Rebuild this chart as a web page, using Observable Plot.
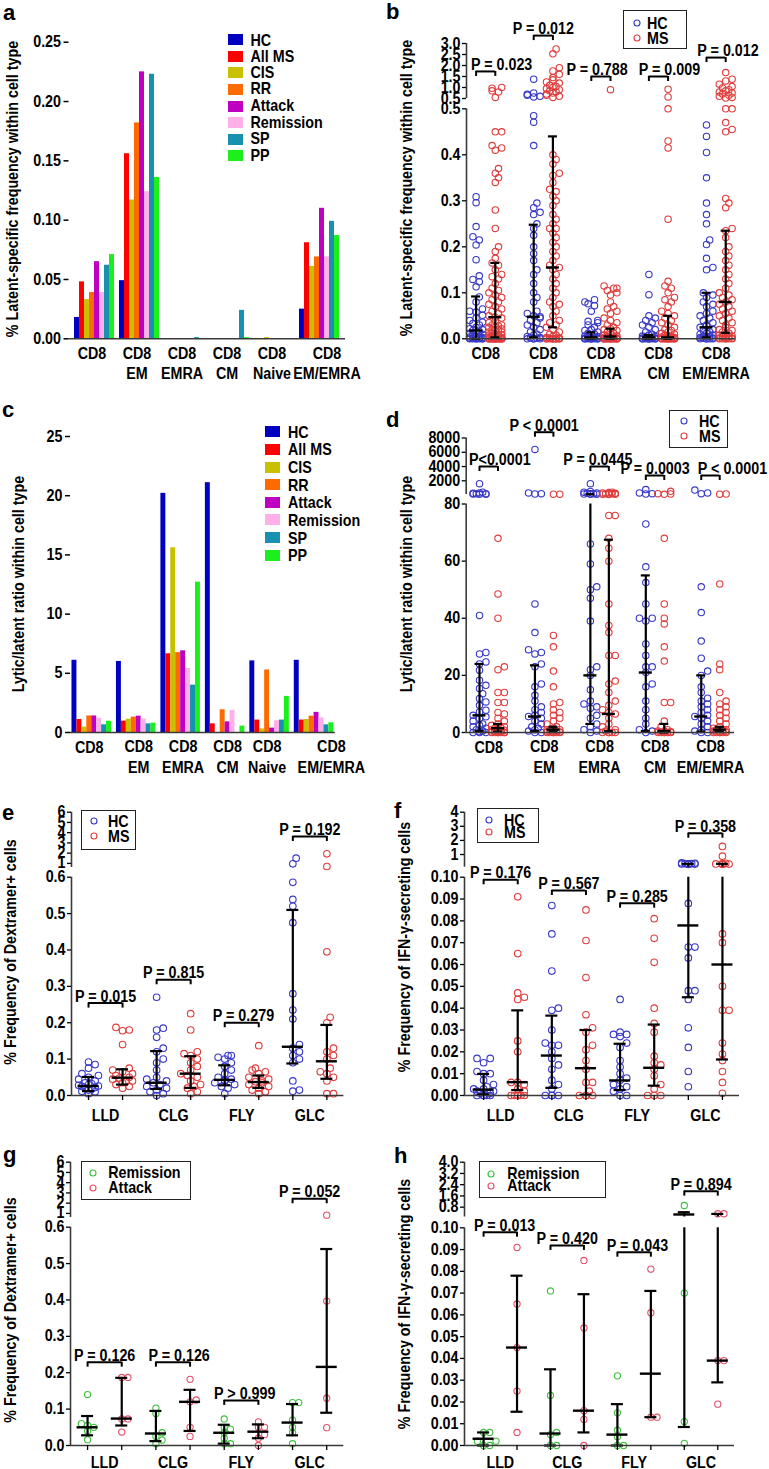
<!DOCTYPE html>
<html><head><meta charset="utf-8">
<script src="https://cdn.jsdelivr.net/npm/d3@7"></script>
<script src="https://cdn.jsdelivr.net/npm/@observablehq/plot@0.6"></script>
<style>
html,body{margin:0;padding:0;background:#fff;}
#root{position:relative;width:769px;height:1469px;overflow:hidden;background:#fff;font-family:"Liberation Sans",Arial,Helvetica,sans-serif;font-weight:bold;color:#000;}
.t{position:absolute;white-space:nowrap;font-size:14.3px;line-height:16px;transform:scaleY(1.1);}
.ytitle{position:absolute;white-space:nowrap;font-size:14.3px;transform:translate(-50%,-50%) rotate(-90deg) scale(1,1.1);}
.letter{position:absolute;font-size:22px;line-height:22px;}
.sw{position:absolute;}
.lbox{position:absolute;border:1.5px solid #222;box-sizing:border-box;}
</style></head><body><div id="root"></div>
<script>
// ================= DATA =================
const series = ["HC","All MS","CIS","RR","Attack","Remission","SP","PP"];
const seriesColors = ["#0000c0","#ff0000","#c8c000","#ff6a00","#c000c0","#ffb0e8","#1890b0","#1cf01c"];
const barCats = ["CD8","CD8\nEM","CD8\nEMRA","CD8\nCM","CD8\nNaive","CD8\nEM/EMRA"];

// panel a: % latent-specific frequency (per series, across barCats)
const aHC        = [0.018,0.049,0,0,0,0.025];
const aAllMS     = [0.048,0.156,0,0,0,0.081];
const aCIS       = [0.033,0.117,0,0,0.001,0.061];
const aRR        = [0.039,0.182,0,0,0,0.069];
const aAttack    = [0.065,0.225,0,0,0,0.110];
const aRemission = [0.039,0.124,0,0,0,0.069];
const aSP        = [0.062,0.223,0.001,0.024,0,0.099];
const aPP        = [0.071,0.136,0,0.001,0,0.087];
const aTicks = [0,0.05,0.10,0.15,0.20,0.25];

// panel c: lytic/latent ratio
const cHC        = [6.1,6.0,20.2,21.1,6.05,6.1];
const cAllMS     = [1.1,0.96,6.65,0.73,1.05,1.05];
const cCIS       = [0.45,1.13,15.6,0,0.3,1.1];
const cRR        = [1.4,1.3,6.75,1.92,5.28,1.38];
const cAttack    = [1.4,1.38,6.9,0.9,0.37,1.7];
const cRemission = [1.2,1.13,5.4,1.86,0.99,1.24];
const cSP        = [0.65,0.73,4.0,0,1.05,0.65];
const cPP        = [0.95,0.79,12.7,0.54,3.05,0.82];
const cTicks = [0,5,10,15,20,25];

const scatterCats = ["CD8","CD8\nEM","CD8\nEMRA","CD8\nCM","CD8\nEM/EMRA"];
const peptides = ["LLD","CLG","FLY","GLC"];

// panel b: latent-specific frequency, HC vs MS
const bHC = [
 [0.309,0.296,0.244,0.222,0.215,0.204,0.172,0.137,0.129,0.124,0.113,0.091,0.080,0.065,0.060,0.058,0.051,0.045,0.040,0.036,0.033,0.030,0.025,0.022,0.020,0.018,0.016,0.014,0.012,0.010,0.008,0.006,0.005,0.004,0.003,0.002,0.002,0.001,0.001,0,0,0,0,0,0,0],
 [1.38,0.75,0.69,0.65,0.60,0.57,0.485,0.471,0.42,0.295,0.285,0.275,0.27,0.25,0.24,0.225,0.20,0.185,0.17,0.15,0.14,0.12,0.10,0.09,0.08,0.06,0.055,0.05,0.048,0.045,0.04,0.035,0.03,0.025,0.02,0.015,0.01,0.008,0.005,0.003,0.002,0.001,0,0,0,0],
 [0.085,0.080,0.076,0.072,0.060,0.040,0.038,0.035,0.030,0.025,0.020,0.018,0.015,0.012,0.010,0.008,0.006,0.005,0.004,0.003,0.003,0.002,0.002,0.001,0.001,0,0,0,0,0,0,0,0,0],
 [0.14,0.096,0.05,0.045,0.04,0.035,0.03,0.025,0.02,0.015,0.01,0.008,0.006,0.005,0.004,0.003,0.003,0.002,0.002,0.001,0.001,0,0,0,0,0,0,0,0,0],
 [0.465,0.44,0.405,0.35,0.295,0.27,0.25,0.215,0.205,0.175,0.155,0.15,0.10,0.095,0.09,0.08,0.075,0.07,0.06,0.055,0.05,0.045,0.04,0.035,0.03,0.028,0.025,0.02,0.018,0.015,0.012,0.01,0.008,0.006,0.005,0.004,0.003,0.002,0.001,0,0,0,0,0]
];
const bMS = [
 [1.0,0.97,0.85,0.8,0.55,0.45,0.45,0.42,0.415,0.41,0.37,0.36,0.35,0.34,0.28,0.24,0.20,0.19,0.175,0.165,0.16,0.15,0.14,0.135,0.13,0.12,0.11,0.105,0.10,0.095,0.09,0.085,0.08,0.075,0.07,0.065,0.06,0.055,0.05,0.047,0.045,0.04,0.035,0.03,0.03,0.028,0.025,0.025,0.022,0.02,0.02,0.018,0.015,0.015,0.012,0.01,0.01,0.008,0.008,0.006,0.005,0.005,0.004,0.003,0.003,0.002,0.002,0.001,0.001,0,0,0,0,0,0,0,0,0,0,0,0,0,0,0,0],
 [2.75,2.53,1.9,1.75,1.6,1.45,1.35,1.25,1.2,1.1,1.05,1.0,0.95,0.9,0.85,0.8,0.75,0.7,0.65,0.6,0.55,0.40,0.39,0.38,0.36,0.355,0.34,0.325,0.32,0.31,0.30,0.29,0.27,0.26,0.25,0.24,0.24,0.23,0.22,0.21,0.20,0.19,0.18,0.17,0.16,0.155,0.15,0.14,0.13,0.12,0.11,0.10,0.09,0.08,0.075,0.07,0.06,0.05,0.04,0.035,0.03,0.025,0.02,0.015,0.01,0.008,0.005,0.003,0.002,0.001,0,0,0,0,0,0,0,0,0,0],
 [0.9,0.115,0.11,0.11,0.105,0.10,0.095,0.08,0.07,0.065,0.06,0.055,0.045,0.04,0.035,0.03,0.025,0.022,0.02,0.018,0.015,0.012,0.01,0.008,0.006,0.005,0.004,0.003,0.003,0.002,0.002,0.001,0.001,0,0,0,0,0,0,0,0,0,0,0,0,0],
 [0.92,0.57,0.5,0.43,0.415,0.26,0.125,0.115,0.11,0.10,0.09,0.085,0.08,0.07,0.06,0.055,0.05,0.045,0.04,0.035,0.03,0.025,0.02,0.018,0.015,0.012,0.01,0.008,0.006,0.005,0.004,0.003,0.003,0.002,0.002,0.001,0.001,0,0,0,0,0,0,0,0,0,0,0],
 [1.68,1.38,1.3,1.15,1.04,0.98,0.9,0.85,0.8,0.75,0.7,0.65,0.6,0.55,0.52,0.5,0.5,0.47,0.455,0.45,0.305,0.295,0.285,0.24,0.235,0.22,0.20,0.19,0.18,0.17,0.16,0.15,0.14,0.13,0.12,0.11,0.10,0.095,0.09,0.085,0.08,0.075,0.07,0.065,0.06,0.055,0.05,0.045,0.04,0.035,0.03,0.025,0.02,0.018,0.015,0.012,0.01,0.008,0.006,0.005,0.004,0.003,0.002,0.001,0,0,0,0,0,0]
];
const bHCStats = [[0.018,0,0.092],[0.048,0.003,0.248],[0.003,0,0.014],[0.003,0,0.008],[0.025,0.003,0.10]]; // median, q1, q3
const bMSStats = [[0.047,0.003,0.165],[0.155,0.025,0.44],[0.005,0,0.022],[0.003,0,0.05],[0.08,0.013,0.235]];
const bP = ["P = 0.023","P = 0.012","P = 0.788","P = 0.009","P = 0.012"];
const bBracketY = [1.73,3.36,1.5,1.5,2.36];
const bTextShift = [0.83,0,-0.2,0.57,0.62];

// panel d: lytic/latent ratio, HC vs MS
const dHC = [
 [1600,400,300,250,200,180,150,120,100,41,28,27.5,24.7,24,21.8,18.3,16.5,15.4,13.6,11.9,10.7,9.5,7.8,7.2,6,5.5,4.9,4,3,2.5,2,1.5,1,0.5,0.3,0,0,0],
 [6400,300,200,150,45,35,29,28,27.5,24,23,17,16,13,11,9,8,7,6,5.6,5,4,3,2,1.5,1,0.5,0,0],
 [1600,500,400,300,250,200,180,150,120,100,66,59,51,50,47,39,23,22,20,15,11,10,9,8.5,6,5,3,2,1,0.5,0],
 [770,300,200,150,73,58,52.5,45,40,40,39,31,27,23,23,21,17,16,11,8,5,3,1,0.5,0],
 [700,300,200,51,42,32,26,21.5,20,16,14,12,11,10,9,8,7,6,5.6,5,4,3,2,1,0.5,0,0]
];
const dMS = [
 [68,48.5,40,23,22,14,14,10.5,10.5,7,6.5,5,4,3,2.5,2,1.5,1.5,1,1,0.8,0.5,0.5,0.3,0.2,0,0,0,0,0,0,0],
 [130,120,34,30,21.5,16,10.5,10,8,7,6,5,4,3,2,1.5,1,1,0.8,0.5,0.5,0.3,0.2,0,0,0,0,0,0],
 [400,350,300,250,200,180,150,120,100,90,76,76,68,64.5,60,45,37.5,35,27,27,18,17,14,11,9.5,8,7,6.5,5,3,2,1,0.5,0,0,0,0,0],
 [530,200,150,100,68,45,40,38,30,25,10.5,10.5,4,2,1,0.5,0.5,0.3,0,0,0,0,0,0],
 [150,120,52,24,22,14,11,10,9,8,7,6,5,4,3,2,1.5,1,1,0.8,0.5,0.5,0.3,0,0,0,0,0,0]
];
const dHCStats = [[6,0.5,24],[5.6,0.5,23.5],[20,3,120],[21,0.5,55],[5.6,0.3,20]];
const dMSStats = [[1.5,0.3,3],[1,0.3,2],[6.5,0.5,67.5],[0.5,0,3],[1,0.3,2]];
const dP = ["P<0.0001","P < 0.0001","P = 0.0445","P = 0.0003","P < 0.0001"];
const dBracketY = [4005,8813,4005,2743,2743];
const dTextShift = [0.6,0,-0.1,0,1.19];

// panel e: % Dextramer+ cells, HC vs MS
const eHC = [
 [0.092,0.085,0.075,0.06,0.055,0.05,0.045,0.04,0.035,0.032,0.03,0.028,0.026,0.025,0.022,0.02,0.018,0.015,0.012,0.01,0.005],
 [0.27,0.185,0.18,0.16,0.13,0.12,0.10,0.09,0.07,0.05,0.045,0.04,0.035,0.03,0.025,0.02,0.015,0.01,0.005,0],
 [0.11,0.11,0.105,0.10,0.09,0.08,0.07,0.06,0.05,0.045,0.042,0.04,0.035,0.03,0.025,0.02,0.005],
 [1.51,0.96,0.586,0.539,0.52,0.475,0.28,0.235,0.21,0.14,0.13,0.12,0.11,0.10,0.09,0.04,0.015,0.012]
];
const eMS = [
 [0.187,0.18,0.178,0.14,0.075,0.07,0.065,0.06,0.055,0.05,0.048,0.045,0.04,0.038,0.035,0.03,0.025,0.02],
 [0.225,0.18,0.12,0.115,0.11,0.10,0.09,0.08,0.07,0.06,0.055,0.05,0.04,0.03,0.025,0.02,0.01,0.005],
 [0.137,0.075,0.07,0.065,0.06,0.05,0.045,0.04,0.038,0.035,0.03,0.025,0.02,0.015,0.01,0.005],
 [1.94,0.7,0.395,0.215,0.20,0.13,0.12,0.11,0.10,0.075,0.065,0.06,0.05,0.04,0.005,0.005]
];
const eHCStats = [[0.026,0.012,0.051],[0.035,0.018,0.122],[0.043,0.028,0.083],[0.134,0.088,0.51]];
const eMSStats = [[0.049,0.03,0.072],[0.06,0.021,0.108],[0.037,0.021,0.055],[0.094,0.046,0.194]];
const eP = ["P = 0.015","P = 0.815","P = 0.279","P = 0.192"];
const eBracketY = [0.254,0.318,0.20,3.63];
const eTextShift = [0,0,0.05,0];

// panel f: % IFN-gamma secreting cells, HC vs MS
const fHC = [
 [0.017,0.017,0.015,0.011,0.01,0.01,0.007,0.005,0.004,0.003,0.003,0.002,0.002,0.001,0.001,0,0,0,0,0],
 [0.087,0.074,0.057,0.04,0.039,0.03,0.024,0.023,0.023,0.02,0.017,0.014,0.012,0.007,0.005,0.003,0,0,0,0],
 [0.044,0.029,0.028,0.028,0.027,0.024,0.022,0.016,0.013,0.01,0.008,0.007,0.005,0.004,0.003,0.002,0,0],
 [0.40,0.38,0.36,0.35,0.34,0.33,0.32,0.30,0.088,0.068,0.068,0.063,0.048,0.048,0.044,0.031,0.022,0.011,0.004]
];
const fMS = [
 [0.091,0.065,0.047,0.045,0.044,0.025,0.02,0.006,0.006,0.005,0.003,0.002,0,0,0,0,0,0],
 [0.085,0.071,0.054,0.037,0.031,0.029,0.023,0.021,0.016,0.012,0.006,0.006,0.002,0,0,0,0],
 [0.081,0.072,0.061,0.04,0.033,0.029,0.018,0.015,0.014,0.012,0.009,0.005,0.003,0,0,0],
 [1.57,0.88,0.38,0.35,0.33,0.32,0.30,0.074,0.07,0.05,0.039,0.039,0.024,0.019,0.016,0.011,0.006,0.001]
];
const fHCStats = [[0.0027,0.0005,0.0099],[0.0183,0.0035,0.0366],[0.0069,0.0025,0.0237],[0.0779,0.045,0.34]];
const fMSStats = [[0.0061,0.0025,0.039],[0.0125,0.0003,0.030],[0.0127,0.0045,0.0325],[0.06,0.0165,0.34]];
const fP = ["P = 0.176","P = 0.567","P = 0.285","P = 0.358"];
const fBracketY = [0.0988,0.0939,0.0881,2.51];
const fTextShift = [0,0,0,0];

// panel g: % Dextramer+ cells, Remission vs Attack
const gRem = [[0.14,0.06,0.055,0.05,0.04,0.016],[0.103,0.088,0.035,0.025,0.015,0.005],[0.073,0.05,0.045,0.035,0.02,0.005,0.005],[0.118,0.118,0.07,0.05,0.035,0.005]];
const gAtt = [[0.187,0.187,0.073,0.073,0.037],[0.182,0.125,0.12,0.05,0.025],[0.065,0.05,0.05,0.03,0.02,0],[0.83,0.397,0.13,0.049]];
const gRemStats = [[0.05,0.028,0.081],[0.033,0.012,0.095],[0.035,0.005,0.057],[0.063,0.028,0.114]];
const gAttStats = [[0.074,0.055,0.186],[0.12,0.04,0.153],[0.038,0.02,0.058],[0.216,0.09,0.54]];
const gP = ["P = 0.126","P = 0.126","P > 0.999","P = 0.052"];
const gBracketY = [0.229,0.229,0.124,2.43];
const gTextShift = [0,0.18,0.1,0];

// panel h: % IFN-gamma secreting cells, Remission vs Attack
const hRem = [[0.006,0.006,0.002,0.002,0,0],[0.071,0.023,0.006,0.005,0,0],[0.032,0.015,0.007,0.004,0,0],[0.92,0.07,0.011,0.001]];
const hAtt = [[0.091,0.065,0.045,0.025,0.006],[0.085,0.054,0.016,0.012,0],[0.081,0.061,0.013,0.013],[0.33,0.33,0.039,0.039,0.019]];
const hRemStats = [[0.0031,0,0.006],[0.0055,0,0.035],[0.005,0,0.019],[0.28,0.0085,0.44]];
const hAttStats = [[0.045,0.0155,0.078],[0.016,0.006,0.0695],[0.033,0.013,0.071],[0.039,0.029,0.32]];
const hP = ["P = 0.013","P = 0.420","P = 0.043","P = 0.894"];
const hBracketY = [0.098,0.0919,0.0888,1.94];
const hTextShift = [0.13,0,0.1,0];

// ================= RENDERING =================
const root = document.getElementById("root");
const FONT = '"Liberation Sans", Arial, Helvetica, sans-serif';
const STYLE = {fontFamily: FONT, fontSize: "14.3px", fontWeight: "bold", background: "transparent", overflow: "visible", color: "#000"};
const AXIS = "#3a3a3a";
const STRETCH = 1.1; // glyphs in the reference are vertically stretched
const C_HC = "#3838c8", C_MS = "#e03c3c", C_REM = "#40c040", C_ATT = "#e2506a";

function addSvg(svg, L, T) {
  svg.style.position = "absolute"; svg.style.left = L + "px"; svg.style.top = T + "px"; svg.style.maxWidth = "none";
  root.appendChild(svg);
  svg.querySelectorAll("text").forEach(t => {
    const bb = t.getBBox(); const cy = bb.y + bb.height / 2;
    const tr = t.getAttribute("transform") || "";
    t.setAttribute("transform", `${tr} translate(0,${cy}) scale(1,${STRETCH}) translate(0,${-cy})`);
  });
}
function margins(b, f) {
  return {width: b.W, height: b.H, marginLeft: f.x0 - b.L, marginRight: b.L + b.W - f.x1, marginTop: f.y0 - b.T, marginBottom: b.T + b.H - f.y1};
}
function el(cls, text, css) {
  const d = document.createElement("div"); d.className = cls; if (text != null) d.textContent = text;
  Object.assign(d.style, css); root.appendChild(d); return d;
}

function barPanel(o) {
  const keys = [];
  o.cats.forEach((c, i) => { series.forEach(s => keys.push(c + "|" + s)); if (i < o.cats.length - 1) keys.push(c + "|"); });
  const rows = [];
  o.values.forEach((vals, j) => vals.forEach((v, i) => rows.push({key: o.cats[i] + "|" + series[j], series: series[j], v})));
  const tickKeys = o.cats.map((c, i) => c + "|" + series[o.labelSlot[i]]);
  const plot = Plot.plot({
    ...margins(o.box, o.frame), style: STYLE,
    x: {domain: keys, paddingInner: 0, paddingOuter: o.po, label: null},
    y: {domain: o.yDomain, label: null},
    color: {domain: series, range: seriesColors},
    marks: [
      Plot.barY(rows, {x: "key", y: "v", fill: "series"}),
      Plot.ruleY([0], {stroke: AXIS, strokeWidth: 1.6}),
      Plot.axisY({ticks: o.ticks, tickFormat: o.fmt, tickSize: 5, tickPadding: 3, line: true, strokeWidth: 1.5, label: null}),
      Plot.axisX({ticks: tickKeys, tickFormat: k => k.split("|")[0], tickSize: 0, tickPadding: 7, lineHeight: 1.3, label: null})
    ]
  });
  addSvg(plot, o.box.L, o.box.T);
  series.forEach((s, i) => {
    const cy = o.legend.y0 + i * o.legend.dy;
    el("sw", null, {left: o.legend.x + "px", top: (cy - 5.5) + "px", width: "15px", height: "11px", background: seriesColors[i]});
    el("t", s, {left: (o.legend.x + 23) + "px", top: (cy - 8) + "px"});
  });
}

function swarmOffsets(pys, r, maxHalf) {
  const n = pys.length, out = new Array(n), placed = [];
  const order = d3.range(n).sort((a, b) => pys[b] - pys[a] || a - b);
  const cands = [0];
  for (let k = 1; k * r <= maxHalf + 1e-6; k++) cands.push(k * r, -k * r);
  let cyc = 0;
  const minD2 = (1.75 * r) ** 2;
  for (const i of order) {
    let best = cands.find(c => placed.every(p => (p.x - c) ** 2 + (p.y - pys[i]) ** 2 >= minD2));
    if (best === undefined) best = cands[(cyc++) % cands.length];
    out[i] = best; placed.push({x: best, y: pys[i]});
  }
  return out;
}

function scatterPanel(o) {
  const slotPx = (o.fx1 - o.fx0) / (o.xDomain[1] - o.xDomain[0]);
  const pos = (g, s) => o.stride * g + s + 0.5;
  const lowMax = o.lower.domain[1];
  const segOf = v => (v > lowMax ? o.upper : o.lower);
  const py = v => { const s = segOf(v); return s.y1 - (v - s.domain[0]) / (s.domain[1] - s.domain[0]) * (s.y1 - s.y0); };
  const points = [], stats = [];
  o.sets.forEach((set, si) => {
    set.values.forEach((vals, g) => {
      const offs = swarmOffsets(vals.map(py), o.r, o.maxHalf);
      vals.forEach((v, k) => points.push({x: pos(g, si) + offs[k] / slotPx, v, si}));
      const [med, q1, q3] = set.stats[g];
      stats.push({x: pos(g, si), med, q1, q3});
    });
  });
  const anns = o.pText.map((t, g) => ({xa: pos(g, 0), xb: pos(g, 1), y: o.pY[g], text: t, shift: o.pShift[g]}));
  const labelMap = new Map(o.cats.map((c, g) => [pos(g, 0) + 0.5, c]));
  for (const seg of [o.lower, o.upper]) {
    const lower = seg === o.lower;
    const [d0, d1] = seg.domain;
    const ppu = (seg.y1 - seg.y0) / (d1 - d0);
    const inSeg = v => (lower ? v <= lowMax : v > lowMax);
    const clamp = v => Math.max(d0, Math.min(d1, v));
    const capH = o.capW / 2 / slotPx, medH = o.medW / 2 / slotPx;
    const whisk = stats.filter(s => s.q3 > d0 && s.q1 < d1);
    const caps = [];
    stats.forEach(s => { for (const v of [s.q1, s.q3]) if (inSeg(v)) caps.push({x: s.x, v}); });
    const meds = stats.filter(s => inSeg(s.med));
    const A = anns.filter(a => inSeg(a.y));
    const marks = [];
    o.sets.forEach((set, si) => marks.push(Plot.dot(points.filter(p => p.si === si && inSeg(p.v)),
      {x: "x", y: "v", r: o.r, stroke: set.color, strokeWidth: 1.1, fill: "none"})));
    marks.push(
      Plot.ruleX(whisk, {x: "x", y1: s => clamp(s.q1), y2: s => clamp(s.q3), stroke: "#000", strokeWidth: 2.2}),
      Plot.ruleY(caps, {y: "v", x1: c => c.x - capH, x2: c => c.x + capH, stroke: "#000", strokeWidth: 2.2}),
      Plot.ruleY(meds, {y: "med", x1: s => s.x - medH, x2: s => s.x + medH, stroke: "#000", strokeWidth: 2.4}),
      Plot.ruleY(A, {y: "y", x1: "xa", x2: "xb", stroke: "#000", strokeWidth: 2}),
      Plot.ruleX(A, {x: "xa", y1: "y", y2: a => a.y - 5 / ppu, stroke: "#000", strokeWidth: 2}),
      Plot.ruleX(A, {x: "xb", y1: "y", y2: a => a.y - 5 / ppu, stroke: "#000", strokeWidth: 2}),
      Plot.text(A, {x: a => (a.xa + a.xb) / 2 + a.shift, y: "y", text: "text", lineAnchor: "bottom", dy: -2}),
      Plot.ruleX([o.xDomain[0]], {stroke: AXIS, strokeWidth: 1.6}),
      Plot.axisY({ticks: seg.ticks, tickFormat: seg.fmt, tickSize: 4, tickPadding: 2, strokeWidth: 1.3, label: null})
    );
    if (lower) {
      marks.push(Plot.ruleY([d0], {stroke: AXIS, strokeWidth: 1.6}));
      if (o.slotTicks) marks.push(Plot.axisX({ticks: stats.map(s => s.x), tickFormat: () => "", tickSize: 5, strokeWidth: 1.3, label: null}));
      marks.push(Plot.axisX({ticks: [...labelMap.keys()], tickFormat: d => labelMap.get(d), tickSize: 0, tickPadding: o.labelPad, lineHeight: 1.3, label: null}));
    }
    const plot = Plot.plot({
      ...margins(o.box, {x0: o.fx0, x1: o.fx1, y0: seg.y0, y1: seg.y1}),
      style: STYLE,
      x: lower ? {domain: o.xDomain, label: null} : {domain: o.xDomain, axis: null},
      y: {domain: seg.domain, label: null},
      marks
    });
    addSvg(plot, o.box.L, o.box.T);
  }
  const lg = o.legend;
  el("lbox", null, {left: lg.L + "px", top: lg.T + "px", width: lg.W + "px", height: lg.H + "px"});
  o.sets.forEach((set, si) => {
    const cy = lg.ys[si];
    const s = document.createElementNS("http://www.w3.org/2000/svg", "svg");
    s.setAttribute("width", 10); s.setAttribute("height", 10);
    Object.assign(s.style, {position: "absolute", left: (lg.cx - 5) + "px", top: (cy - 5) + "px"});
    s.innerHTML = `<circle cx="5" cy="5" r="3" fill="none" stroke="${set.color}" stroke-width="1.1"/>`;
    root.appendChild(s);
    el("t", set.name, {left: lg.tx + "px", top: (cy - 8) + "px"});
  });
}

// ---- panel a ----
barPanel({cats: barCats, values: [aHC,aAllMS,aCIS,aRR,aAttack,aRemission,aSP,aPP],
  box: {L: 0, T: 0, W: 384, H: 390}, frame: {x0: 68.5, x1: 345, y0: 41.7, y1: 338.3}, po: 0.29,
  yDomain: [0, 0.25], ticks: aTicks, fmt: d3.format(".2f"), labelSlot: [3,3,3,3,3,5],
  legend: {x: 227.5, y0: 39.6, dy: 16.6}});
// ---- panel c ----
barPanel({cats: barCats, values: [cHC,cAllMS,cCIS,cRR,cAttack,cRemission,cSP,cPP],
  box: {L: 0, T: 390, W: 384, H: 385}, frame: {x0: 70, x1: 334.8, y0: 436, y1: 732}, po: 0.3,
  yDomain: [0, 25], ticks: cTicks, fmt: d3.format("d"), labelSlot: [3,4,4,4,3,7],
  legend: {x: 265, y0: 431.7, dy: 17.65}});

// ---- panel b ----
scatterPanel({cats: scatterCats, stride: 3, xDomain: [0, 14], fx0: 466, fx1: 734.8,
  box: {L: 384, T: 0, W: 385, H: 390},
  lower: {domain: [0, 0.5], y0: 108.3, y1: 338.3, ticks: [0,0.1,0.2,0.3,0.4,0.5], fmt: d3.format(".1f")},
  upper: {domain: [0.5, 3.0], y0: 43, y1: 98, ticks: [0.5,1.0,1.5,2.0,2.5,3.0], fmt: d3.format(".1f")},
  sets: [{name: "HC", color: C_HC, values: bHC, stats: bHCStats}, {name: "MS", color: C_MS, values: bMS, stats: bMSStats}],
  pText: bP, pY: bBracketY, pShift: bTextShift,
  r: 3.2, maxHalf: 9, medW: 13, capW: 9, slotTicks: false, labelPad: 7,
  legend: {L: 623, T: 10, W: 64, H: 39, cx: 637, tx: 647, ys: [23, 38]}});
// ---- panel d ----
scatterPanel({cats: scatterCats, stride: 3, xDomain: [-0.22, 14.3], fx0: 465.7, fx1: 734,
  box: {L: 384, T: 390, W: 385, H: 385},
  lower: {domain: [0, 80], y0: 503.5, y1: 732, ticks: [0,20,40,60,80], fmt: d3.format("d")},
  upper: {domain: [80, 8000], y0: 437.5, y1: 494, ticks: [2000,4000,6000,8000], fmt: d3.format("d")},
  sets: [{name: "HC", color: C_HC, values: dHC, stats: dHCStats}, {name: "MS", color: C_MS, values: dMS, stats: dMSStats}],
  pText: dP, pY: dBracketY, pShift: dTextShift,
  r: 3.2, maxHalf: 9, medW: 13, capW: 9, slotTicks: false, labelPad: 7,
  legend: {L: 669, T: 410, W: 59, H: 38, cx: 684, tx: 699, ys: [421, 436]}});
// ---- panel e ----
scatterPanel({cats: peptides, stride: 2, xDomain: [0, 8], fx0: 71, fx1: 343.4,
  box: {L: 0, T: 785, W: 384, H: 340},
  lower: {domain: [0, 0.6], y0: 876.7, y1: 1095, ticks: [0,0.1,0.2,0.3,0.4,0.5,0.6], fmt: d3.format(".1f")},
  upper: {domain: [0.6, 6], y0: 811.7, y1: 867, ticks: [1,2,3,4,5,6], fmt: d3.format("d")},
  sets: [{name: "HC", color: C_HC, values: eHC, stats: eHCStats}, {name: "MS", color: C_MS, values: eMS, stats: eMSStats}],
  pText: eP, pY: eBracketY, pShift: eTextShift,
  r: 3.3, maxHalf: 13, medW: 21, capW: 12, slotTicks: true, labelPad: 12,
  legend: {L: 81, T: 810, W: 55, H: 40, cx: 94, tx: 108, ys: [821, 836]}});
// ---- panel f ----
scatterPanel({cats: peptides, stride: 2, xDomain: [-0.06, 8], fx0: 464, fx1: 739,
  box: {L: 384, T: 785, W: 385, H: 340},
  lower: {domain: [0, 0.1], y0: 876.7, y1: 1095, ticks: d3.range(0, 0.1001, 0.01), fmt: d3.format(".2f")},
  upper: {domain: [0.1, 4], y0: 811.7, y1: 866.7, ticks: [1,2,3,4], fmt: d3.format("d")},
  sets: [{name: "HC", color: C_HC, values: fHC, stats: fHCStats}, {name: "MS", color: C_MS, values: fMS, stats: fMSStats}],
  pText: fP, pY: fBracketY, pShift: fTextShift,
  r: 3.3, maxHalf: 13, medW: 21, capW: 12, slotTicks: true, labelPad: 12,
  legend: {L: 477, T: 808, W: 62, H: 35, cx: 489, tx: 504, ys: [819.5, 832]}});
// ---- panel g ----
scatterPanel({cats: peptides, stride: 2, xDomain: [0, 8], fx0: 70, fx1: 343.3,
  box: {L: 0, T: 1135, W: 384, H: 334},
  lower: {domain: [0, 0.6], y0: 1226.7, y1: 1445, ticks: [0,0.1,0.2,0.3,0.4,0.5,0.6], fmt: d3.format(".1f")},
  upper: {domain: [0.6, 6], y0: 1161.7, y1: 1217, ticks: [1,2,3,4,5,6], fmt: d3.format("d")},
  sets: [{name: "Remission", color: C_REM, values: gRem, stats: gRemStats}, {name: "Attack", color: C_ATT, values: gAtt, stats: gAttStats}],
  pText: gP, pY: gBracketY, pShift: gTextShift,
  r: 3.1, maxHalf: 13, medW: 21, capW: 12, slotTicks: true, labelPad: 9,
  legend: {L: 81, T: 1161, W: 110, H: 39, cx: 93.3, tx: 108.3, ys: [1172.7, 1187.7]}});
// ---- panel h ----
scatterPanel({cats: peptides, stride: 2, xDomain: [-0.07, 8], fx0: 464, fx1: 734,
  box: {L: 384, T: 1135, W: 385, H: 334},
  lower: {domain: [0, 0.1], y0: 1227.3, y1: 1445, ticks: d3.range(0, 0.1001, 0.01), fmt: d3.format(".2f")},
  upper: {domain: [0.1, 4], y0: 1161.7, y1: 1216.5, ticks: [0.8,1.6,2.4,3.2,4.0], fmt: d3.format(".1f")},
  sets: [{name: "Remission", color: C_REM, values: hRem, stats: hRemStats}, {name: "Attack", color: C_ATT, values: hAtt, stats: hAttStats}],
  pText: hP, pY: hBracketY, pShift: hTextShift,
  r: 3.1, maxHalf: 13, medW: 21, capW: 12, slotTicks: true, labelPad: 9,
  legend: {L: 479, T: 1161, W: 127, H: 37, cx: 491.3, tx: 507.3, ys: [1174.3, 1185.7]}});

// ---- axis titles and panel letters ----
const yTitles = [
  ["% Latent-specific frequency within cell type", 12, 189],
  ["% Latent-specific frequency within cell type", 405.5, 187.5],
  ["Lytic/latent ratio within cell type", 17.5, 584],
  ["Lytic/latent ratio within cell type", 405.5, 584],
  ["% Frequency of Dextramer+ cells", 10, 952],
  ["% Frequency of IFN-\u03b3-secreting cells", 404, 946.5],
  ["% Frequency of Dextramer+ cells", 10, 1310],
  ["% Frequency of IFN-\u03b3-secreting cells", 404, 1304]
];
yTitles.forEach(([t, x, y]) => el("ytitle", t, {left: x + "px", top: y + "px"}));
const letters = [["a",3,1.5],["b",386,0.5],["c",2,398.5],["d",386,408.5],["e",2,801.5],["f",394,799.5],["g",3,1143.5],["h",394,1144.5]];
letters.forEach(([t, x, y]) => el("letter", t, {left: x + "px", top: y + "px"}));
</script></body></html>
